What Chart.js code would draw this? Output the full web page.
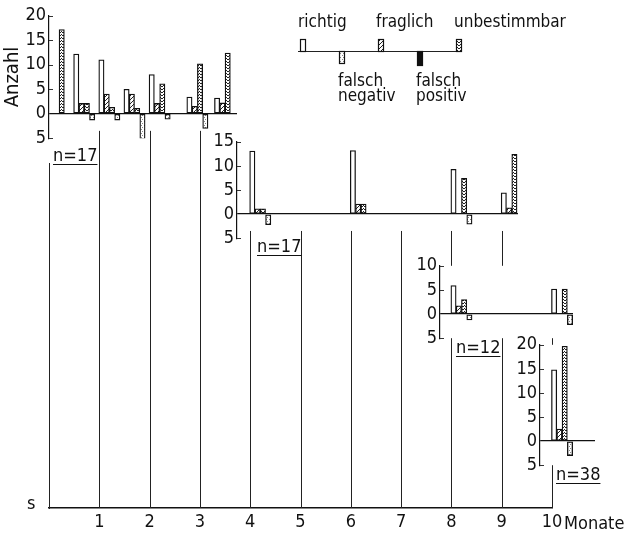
<!DOCTYPE html>
<html>
<head>
<meta charset="utf-8">
<script src="https://cdn.jsdelivr.net/npm/chart.js@4.4.0/dist/chart.umd.min.js"></script>
<style>
  body { margin: 0; background: #fff; }
  #wrap { position: relative; width: 627px; height: 533px; overflow: hidden; background: #fff; }
  #wrap canvas { position: absolute; }
  .n { position: absolute; font-family: 'Liberation Sans Narrow', 'DejaVu Sans Condensed', 'Liberation Sans', sans-serif;
       font-size: 18px; line-height: 18px; color: #111; text-decoration: underline; text-underline-offset: 3px; }
</style>
</head>
<body>
<div id="wrap">
  <canvas id="base" width="627" height="533" style="left:0;top:0"></canvas>
</div>
<script>
const FONT = "'Liberation Sans Narrow', 'DejaVu Sans Condensed', 'Liberation Sans', sans-serif";

// x axis (Monate)
const monthTicks = [1, 2, 3, 4, 5, 6, 7, 8, 9, 10];

// series, in bar-slot order inside each group
const seriesNames = ['richtig', 'fraglich', 'unbestimmbar', 'falsch negativ', 'falsch positiv'];
const legendOrder = [0, 3, 1, 4, 2];

const panelN = [17, 17, 12, 38];
const panelMax = [20, 15, 10, 20];

// panel 1
const p1Times = [0.2, 0.7, 1.2, 1.7, 2.2, 2.95, 3.5];
const p1Richtig = [null, 12.2, 11, 5, 8, 3.4, 3.2];
const p1Fraglich = [null, 2.1, 4, 4, 2.1, 1.5, 2.2];
const p1Unbest = [17.2, 2.1, 1.3, 1.1, 6.1, 10.2, 12.4];
const p1FalschNeg = [null, -1.3, -1.3, -5.3, -1.1, -3, null];
const p1FalschPos = [null, null, null, null, null, null, null];

// panel 2
const p2Times = [4.2, 6.2, 8.2, 9.2];
const p2Richtig = [13.1, 13.2, 9.3, 4.4];
const p2Fraglich = [1.1, 2.1, null, 1.3];
const p2Unbest = [1.1, 2.1, 7.4, 12.4];
const p2FalschNeg = [-2.2, null, -2.1, null];
const p2FalschPos = [null, null, null, null];

// panel 3
const p3Times = [8.2, 10.2];
const p3Richtig = [5.9, 5.2];
const p3Fraglich = [1.7, null];
const p3Unbest = [3, 5.2];
const p3FalschNeg = [-1.2, -2.2];
const p3FalschPos = [null, null];

// panel 4
const p4Times = [10.2];
const p4Richtig = [14.8];
const p4Fraglich = [2.5];
const p4Unbest = [19.7];
const p4FalschNeg = [-3];
const p4FalschPos = [null];

// where the panels sit on the page (pixels); lower panels cover the month lines behind them
const PAD = 12;
const panelBoxes = [
  { axis: 49,  end: 237, top: 14,  bottom: 140, axisW: 49, nx: 53,  ny: 146, cover: false },
  { axis: 237, end: 518, top: 140, bottom: 240, axisW: 40, nx: 257, ny: 237, cover: false },
  { axis: 440, end: 573, top: 264, bottom: 340, axisW: 40, nx: 456, ny: 338, cover: true },
  { axis: 540, end: 595, top: 343, bottom: 467, axisW: 40, nx: 556, ny: 465, cover: true }
];

function pattern(w, h, draw) {
  const c = document.createElement('canvas');
  c.width = w; c.height = h;
  const g = c.getContext('2d');
  g.fillStyle = '#fff'; g.fillRect(0, 0, w, h);
  g.fillStyle = '#222'; g.strokeStyle = '#222';
  draw(g);
  return g.createPattern(c, 'repeat');
}
const fills = [
  '#ffffff',
  pattern(4, 4, g => { g.lineWidth = 1; g.beginPath(); g.moveTo(0, 4); g.lineTo(4, 0); g.stroke(); }),
  pattern(3, 3, g => { g.fillRect(0, 0, 1, 1); g.fillRect(2, 0, 1, 1); g.fillRect(1, 2, 1, 1); }),
  pattern(3, 4, g => { g.fillStyle = '#888'; g.fillRect(1, 1, 1, 1); g.fillRect(0, 3, 1, 1); }),
  '#111'
];
const stackIds = ['r', 'f', 'u', 'n', 'n'];

const panels = [];

const decor = {
  id: 'decor',
  afterDraw(chart) {
    const ctx = chart.ctx, x = chart.scales.x, bottom = chart.chartArea.bottom;
    ctx.save();
    // month lines hanging from the panel above
    ctx.strokeStyle = '#222';
    ctx.lineWidth = 1;
    monthTicks.forEach(m => {
      const p = panels.find(pc => m > pc.scales.x.min && m <= pc.scales.x.max);
      if (!p) return;
      const top = parseFloat(p.canvas.style.top) + p.scales.y.getPixelForValue(-3.5);
      const px = Math.round(x.getPixelForValue(m)) + 0.5;
      ctx.beginPath(); ctx.moveTo(px, top); ctx.lineTo(px, bottom); ctx.stroke();
    });
    // axis texts
    ctx.fillStyle = '#111';
    ctx.font = '18px ' + FONT;
    ctx.textBaseline = 'alphabetic';
    ctx.textAlign = 'left';
    ctx.fillText('Monate', x.getPixelForValue(10) + 12, bottom + 21);
    ctx.fillText('s', 27, bottom + 1);
    // legend: schematic baseline with one small bar per category
    const baseY = 51, lx = [300, 339, 378, 417, 456];
    ctx.font = '17px ' + FONT;
    ctx.lineWidth = 1.2;
    ctx.beginPath(); ctx.moveTo(298, baseY + 0.5); ctx.lineTo(462, baseY + 0.5); ctx.stroke();
    legendOrder.forEach((k, i) => {
      const up = k < 3;
      const h = up ? 12 : (k === 4 ? 14 : 12);
      const y0 = up ? baseY - h : baseY;
      ctx.fillStyle = fills[k];
      ctx.fillRect(lx[i], y0, 5, h);
      ctx.strokeStyle = '#111';
      ctx.strokeRect(lx[i] + 0.5, y0 + 0.5, 5, h);
      ctx.fillStyle = '#111';
      if (up) {
        ctx.fillText(seriesNames[k], lx[i] - 2, 27);
      } else {
        const w = seriesNames[k].split(' ');
        ctx.fillText(w[0], lx[i] - 1, 86);
        ctx.fillText(w[1], lx[i] - 1, 101);
      }
    });
    ctx.restore();
  }
};

// white chart area for panels that lie over month lines, plus short tick dashes inside the axis
const panelDecor = {
  id: 'panelDecor',
  beforeDraw(chart, args, opts) {
    if (!opts.cover) return;
    const a = chart.chartArea, ctx = chart.ctx;
    ctx.save();
    ctx.fillStyle = '#fff';
    ctx.fillRect(a.left, a.top, a.right - a.left, a.bottom - a.top);
    ctx.restore();
  },
  afterDraw(chart) {
    const y = chart.scales.y, ctx = chart.ctx, x0 = chart.chartArea.left;
    ctx.save();
    ctx.strokeStyle = '#333';
    ctx.lineWidth = 1;
    y.ticks.forEach(t => {
      if (t.value === 0) return;
      const py = Math.round(y.getPixelForValue(t.value)) + 0.5;
      ctx.beginPath(); ctx.moveTo(x0, py); ctx.lineTo(x0 + 4, py); ctx.stroke();
    });
    ctx.restore();
  }
};

const base = new Chart(document.getElementById('base'), {
  type: 'scatter',
  data: { datasets: [] },
  options: {
    responsive: false,
    animation: false,
    devicePixelRatio: 1,
    layout: { padding: { left: 49, right: 75, top: 163, bottom: 0 } },
    plugins: { legend: { display: false }, tooltip: { enabled: false } },
    scales: {
      x: {
        type: 'linear', min: 0, max: 10,
        afterBuildTicks: s => { s.ticks = monthTicks.map(v => ({ value: v })); },
        afterFit: s => { s.height = 25; },
        ticks: { color: '#111', font: { family: FONT, size: 18 }, padding: 4 },
        grid: { display: false, drawTicks: false },
        border: { color: '#111', width: 1.5 }
      },
      y: {
        min: 0, max: 1,
        afterFit: s => { s.width = 0; },
        ticks: { display: false },
        grid: { display: false, drawTicks: false },
        border: { color: '#222', width: 1 }
      }
    }
  },
  plugins: [decor]
});

function makePanel(i, times, sets) {
  const b = panelBoxes[i];
  const cv = document.createElement('canvas');
  const left = b.axis - b.axisW, top = b.top - PAD;
  cv.width = b.end - left + 2;
  cv.height = b.bottom - b.top + 2 * PAD;
  cv.style.left = left + 'px';
  cv.style.top = top + 'px';
  document.getElementById('wrap').appendChild(cv);

  const n = document.createElement('span');
  n.className = 'n';
  n.textContent = 'n=' + panelN[i];
  n.style.left = b.nx + 'px';
  n.style.top = b.ny + 'px';
  document.getElementById('wrap').appendChild(n);

  const xs = base.scales.x;
  return new Chart(cv, {
    type: 'bar',
    data: {
      datasets: sets.map((vals, k) => ({
        label: seriesNames[k],
        data: times.map((t, j) => ({ x: t, y: vals[j] })),
        backgroundColor: fills[k],
        borderColor: '#111',
        borderWidth: 1.3,
        borderSkipped: false,
        barThickness: 5.3,
        stack: stackIds[k]
      }))
    },
    options: {
      responsive: false,
      animation: false,
      devicePixelRatio: 1,
      layout: { padding: { top: PAD, bottom: PAD, left: 0, right: 2 } },
      plugins: { legend: { display: false }, tooltip: { enabled: false }, panelDecor: { cover: b.cover } },
      scales: {
        x: {
          type: 'linear', display: false, offset: false,
          min: xs.getValueForPixel(b.axis), max: xs.getValueForPixel(b.end)
        },
        y: {
          min: -5, max: panelMax[i],
          afterFit: s => { s.width = b.axisW; },
          ticks: { stepSize: 5, callback: v => Math.abs(v), color: '#111',
                   font: { family: FONT, size: 18 }, padding: 3 },
          grid: {
            drawTicks: false, lineWidth: 1.3,
            color: c => (c.tick && c.tick.value === 0) ? '#111' : 'rgba(0,0,0,0)'
          },
          border: { color: '#111', width: 1.2 },
          title: {
            display: i === 0, text: 'Anzahl', color: '#111',
            font: { family: FONT, size: 20 }, padding: { top: 1, bottom: 0 }
          }
        }
      }
    },
    plugins: [panelDecor]
  });
}

panels.push(makePanel(0, p1Times, [p1Richtig, p1Fraglich, p1Unbest, p1FalschNeg, p1FalschPos]));
panels.push(makePanel(1, p2Times, [p2Richtig, p2Fraglich, p2Unbest, p2FalschNeg, p2FalschPos]));
panels.push(makePanel(2, p3Times, [p3Richtig, p3Fraglich, p3Unbest, p3FalschNeg, p3FalschPos]));
panels.push(makePanel(3, p4Times, [p4Richtig, p4Fraglich, p4Unbest, p4FalschNeg, p4FalschPos]));
base.draw();
</script>
</body>
</html>
